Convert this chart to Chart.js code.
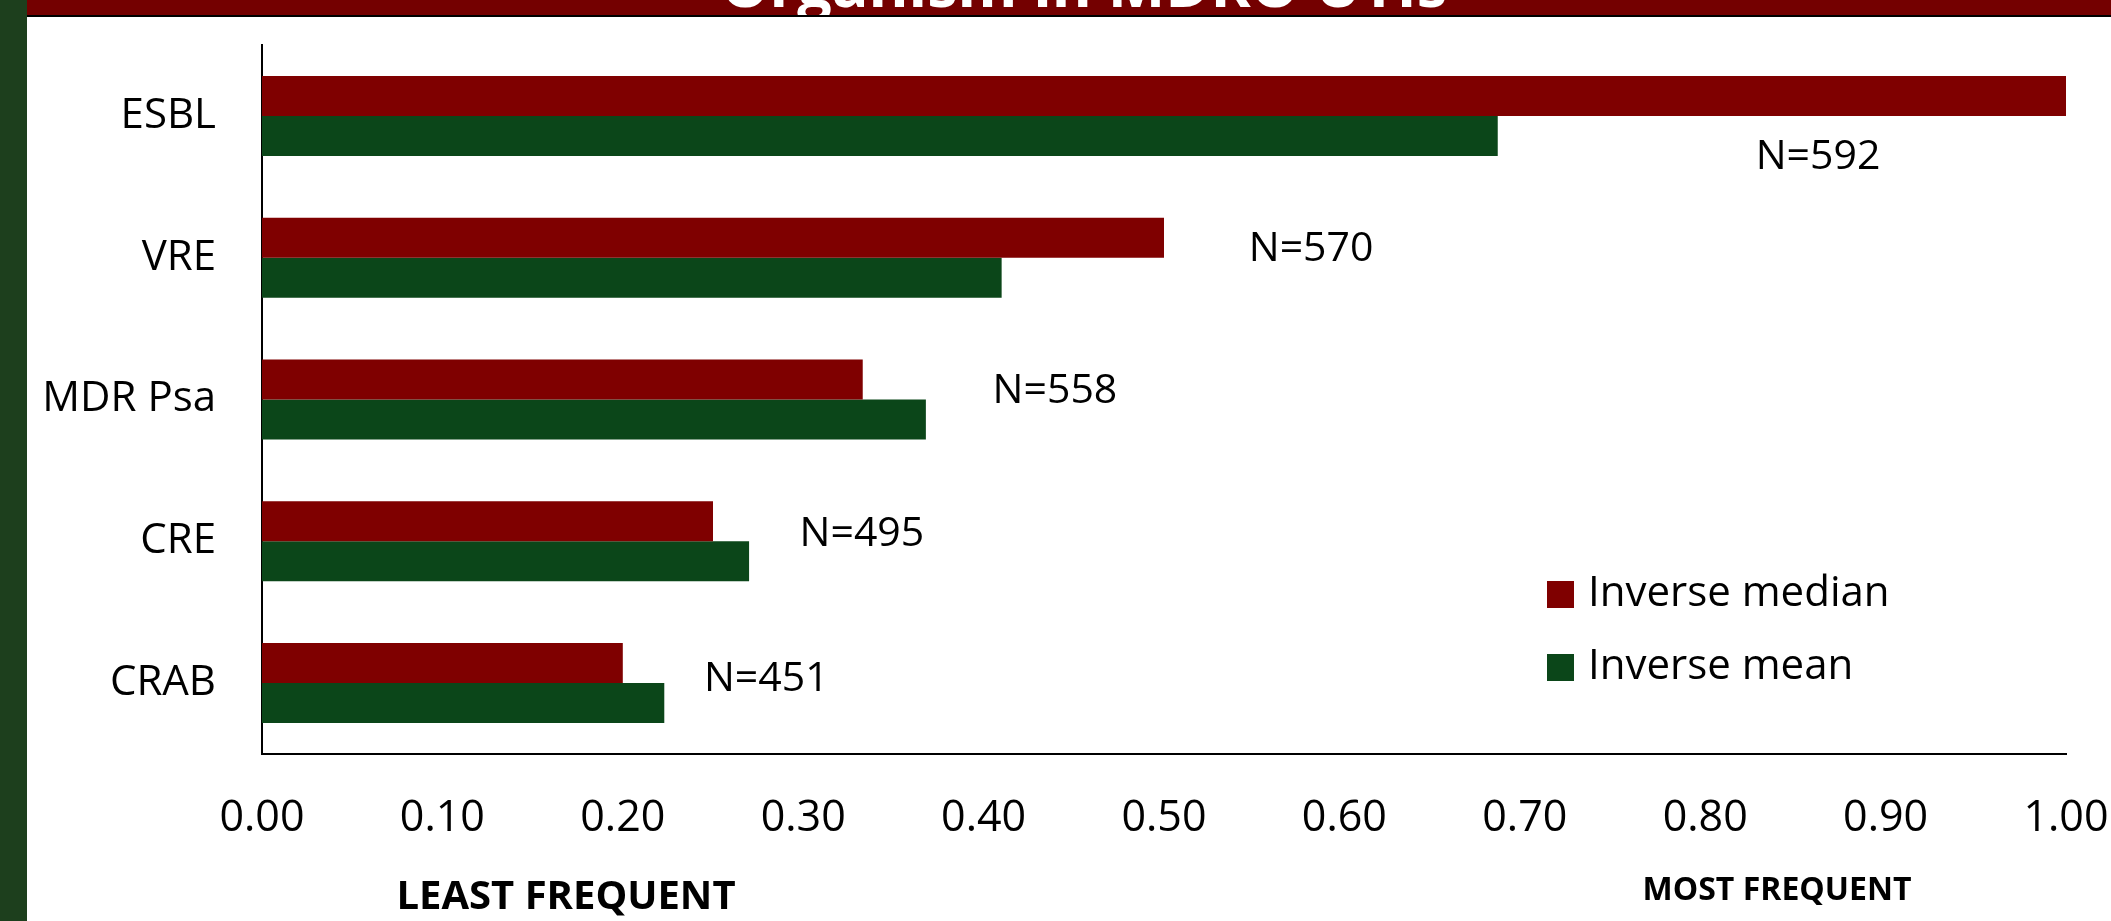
<!DOCTYPE html>
<html>
<head>
<meta charset="utf-8">
<script src="https://cdn.jsdelivr.net/npm/chart.js@4.4.1/dist/chart.umd.min.js"></script>
<style>
  html, body { margin: 0; padding: 0; background: #fff; overflow: hidden; }
  #wrap { position: absolute; left: 0; top: 0; width: 2111px; height: 921px; }
</style>
</head>
<body>
<div id="wrap"><canvas id="mdroChart" width="2111" height="921"></canvas></div>
<script>
    var categories = ["ESBL", "VRE", "MDR Psa", "CRE", "CRAB"];
    var inverseMedian = [1.00, 0.50, 0.333, 0.25, 0.20];
    var inverseMean = [0.685, 0.41, 0.368, 0.27, 0.223];
    var xTicks = [0, 0.1, 0.2, 0.3, 0.4, 0.5, 0.6, 0.7, 0.8, 0.9, 1.0];

    // N counts, with the point (value, category shift) each label sits at
    var nLabels = ["N=592", "N=570", "N=558", "N=495", "N=451"];
    var nLabelValue = [0.828, 0.547, 0.405, 0.298, 0.245];
    var nLabelShift = [0.29, -0.06, -0.06, -0.05, -0.03];

    var FONT = "'Open Sans', 'Noto Sans', sans-serif";

    var frame = {
        id: "frame",
        beforeDraw: function(chart) {
            var ctx = chart.ctx;
            ctx.save();
            ctx.fillStyle = "#1d3f1d";
            ctx.fillRect(0, 0, 27, chart.height);
            ctx.fillStyle = "#740000";
            ctx.fillRect(27, 0, chart.width - 27, 15);
            ctx.fillStyle = "#000";
            ctx.fillRect(27, 15, chart.width - 27, 2);

            // title mostly cut off by the top of the slide
            ctx.beginPath();
            ctx.rect(27, 0, chart.width - 27, 15);
            ctx.clip();
            ctx.fillStyle = "#fff";
            ctx.font = "bold 61px " + FONT;
            ctx.textAlign = "center";
            ctx.textBaseline = "alphabetic";
            ctx.fillText("Organism in MDRO UTIs", 1084, 7);
            ctx.restore();
        },
        afterDraw: function(chart) {
            var ctx = chart.ctx;
            ctx.save();
            ctx.fillStyle = "#000";
            ctx.textAlign = "center";
            ctx.textBaseline = "middle";
            ctx.font = "bold 40px " + FONT;
            ctx.fillText("LEAST FREQUENT", 566, 898);
            ctx.font = "bold 32px " + FONT;
            ctx.fillText("MOST FREQUENT", 1777, 891);

            // legend
            ctx.textAlign = "left";
            ctx.font = "42px " + FONT;
            chart.data.datasets.forEach(function(ds, i) {
                var top = 581 + i * 73;
                ctx.fillStyle = ds.backgroundColor;
                ctx.fillRect(1547, top, 27, 27);
                ctx.fillStyle = "#000";
                ctx.fillText(ds.label, 1588, top + 13);
            });

            // N labels
            var xs = chart.scales.x, ys = chart.scales.y;
            ctx.font = "41px " + FONT;
            nLabels.forEach(function(t, i) {
                ctx.fillText(t, xs.getPixelForValue(nLabelValue[i]), ys.getPixelForValue(i + nLabelShift[i]));
            });
            ctx.restore();
        }
    };

    var data = {
        labels: categories,
        datasets: [{
            label: "Inverse median",
            data: inverseMedian,
            backgroundColor: "#7f0000"
        }, {
            label: "Inverse mean",
            data: inverseMean,
            backgroundColor: "#0b4619"
        }]
    };

    var options = {
        indexAxis: "y",
        responsive: false,
        animation: false,
        layout: { padding: { left: 27, top: 45, right: 45, bottom: 0 } },
        datasets: { bar: { categoryPercentage: 0.564, barPercentage: 1.0 } },
        plugins: { legend: { display: false }, tooltip: { enabled: false } },
        scales: {
            x: {
                min: 0,
                max: 1,
                afterFit: function(s) {
                    s.height = 167;
                    s.paddingLeft = 0;
                    s.paddingRight = 0;
                },
                afterBuildTicks: function(s) { s.ticks = xTicks.map(function(v) { return { value: v }; }); },
                grid: { display: false, drawTicks: false },
                border: { display: true, color: "#000", width: 2 },
                ticks: {
                    padding: 39,
                    color: "#000",
                    font: { family: FONT, size: 43 },
                    maxRotation: 0,
                    autoSkip: false,
                    callback: function(v) { return Number(v).toFixed(2); }
                }
            },
            y: {
                afterFit: function(s) {
                    s.width = 235;
                    s.paddingTop = 0;
                    s.paddingBottom = 0;
                },
                grid: { display: false, drawTicks: false },
                border: { display: true, color: "#000", width: 2 },
                ticks: {
                    padding: 46,
                    color: "#000",
                    font: { family: FONT, size: 42 }
                }
            }
        }
    };

    var mdroChart = new Chart(document.getElementById("mdroChart").getContext("2d"), {
        type: "bar",
        data: data,
        options: options,
        plugins: [frame]
    });
</script>
</body>
</html>
